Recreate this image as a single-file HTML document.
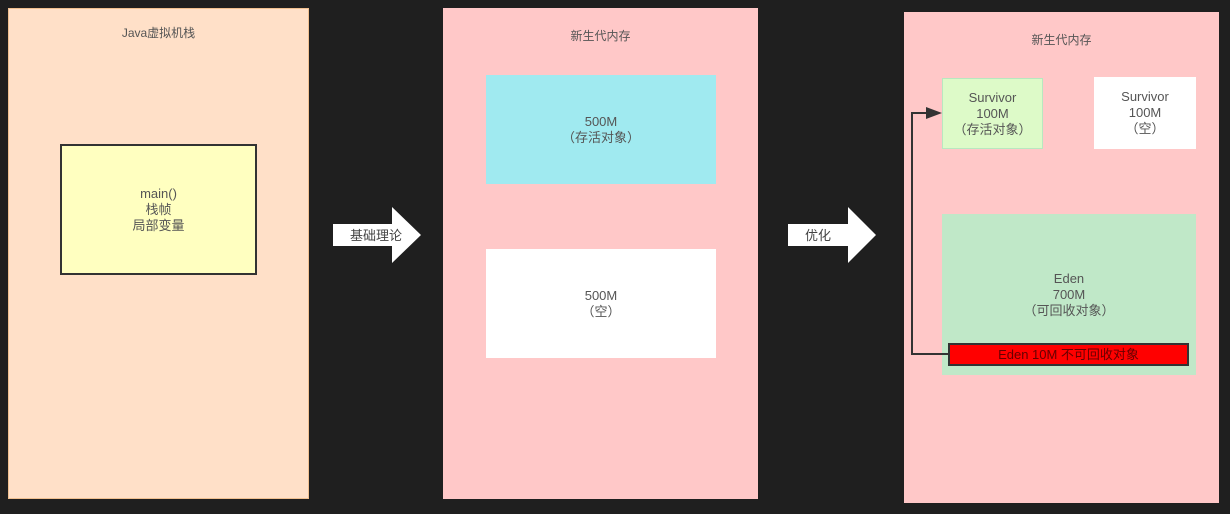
<!DOCTYPE html>
<html><head><meta charset="utf-8"><style>
body{margin:0;width:1230px;height:514px;background:#1f1f1f;position:relative;overflow:hidden;font-family:"Liberation Sans","Noto Sans CJK SC",sans-serif;color:#555;font-size:13px}
div.b{position:absolute;box-sizing:border-box;display:flex;align-items:center;justify-content:center;text-align:center;line-height:16px}
.t{position:absolute;text-align:center;font-size:12px;color:#555}
</style></head><body>
<div class="b" style="left:8px;top:8px;width:301px;height:491px;background:#ffe0c8;border:1px solid #f0c090"></div>
<div class="t" style="left:8px;top:24px;width:301px">Java虚拟机栈</div>
<div class="b" style="left:60px;top:144px;width:197px;height:131px;background:#ffffc0;border:2px solid #333">main()<br>栈帧<br>局部变量</div>

<div class="b" style="left:443px;top:8px;width:315px;height:491px;background:#ffc8c8"></div>
<div class="t" style="left:443px;top:27px;width:315px">新生代内存</div>
<div class="b" style="left:486px;top:75px;width:230px;height:109px;background:#a0eaf0">500M<br>（存活对象）</div>
<div class="b" style="left:486px;top:249px;width:230px;height:109px;background:#fff">500M<br>（空）</div>

<div class="b" style="left:904px;top:12px;width:315px;height:491px;background:#ffc8c8"></div>
<div class="t" style="left:904px;top:31px;width:315px">新生代内存</div>
<div class="b" style="left:942px;top:78px;width:101px;height:71px;background:#ddfac8;border:1px solid #b8e8c0">Survivor<br>100M<br>（存活对象）</div>
<div class="b" style="left:1094px;top:77px;width:102px;height:72px;background:#fff">Survivor<br>100M<br>（空）</div>
<div class="b" style="left:942px;top:214px;width:254px;height:161px;background:#c0e8c8;align-items:flex-start;padding-top:57px">Eden<br>700M<br>（可回收对象）</div>
<div class="b" style="left:948px;top:343px;width:241px;height:23px;background:#ff0000;border:2px solid #333;color:#600">Eden 10M 不可回收对象</div>

<svg style="position:absolute;left:0;top:0" width="1230" height="514">
<polyline points="948,354 912,354 912,113 930,113" fill="none" stroke="#333" stroke-width="2"/>
<polygon points="942,113 926,107 926,119" fill="#333"/>
<polygon points="333,224 392,224 392,207 421,235 392,263 392,246 333,246" fill="#fff"/>
<text x="376" y="240" text-anchor="middle" font-size="13" fill="#444" font-family="Liberation Sans,Noto Sans CJK SC,sans-serif">基础理论</text>
<polygon points="788,224 848,224 848,207 876,235 848,263 848,246 788,246" fill="#fff"/>
<text x="818" y="240" text-anchor="middle" font-size="13" fill="#444" font-family="Liberation Sans,Noto Sans CJK SC,sans-serif">优化</text>
</svg>
</body></html>
